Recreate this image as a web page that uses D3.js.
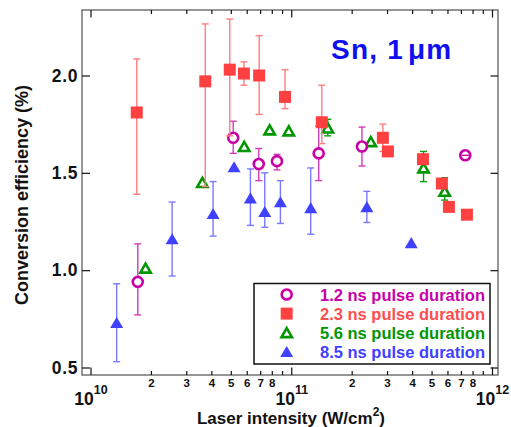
<!DOCTYPE html>
<html><head><meta charset="utf-8">
<script src="https://cdn.jsdelivr.net/npm/d3@7"></script>
<style>
body{margin:0;background:#fff}
svg{display:block}
text{font-family:"Liberation Sans",Arial,Helvetica,sans-serif;font-weight:bold}
</style>
</head><body>
<svg id="chart" width="511" height="427"></svg>
<script>
// Conversion efficiency of Sn plasma (1 µm laser) vs. laser intensity, four pulse durations.

// 1.2 ns pulse duration
const int12 = [1.72e10, 5.14e10, 6.89e10, 8.49e10, 1.37e11, 2.25e11, 7.36e11];
const ce12  = [0.94, 1.68, 1.545, 1.56, 1.60, 1.635, 1.59];
const lo12  = [0.77, 1.60, 1.46, 1.515, 1.46, 1.535, 1.587];
const hi12  = [1.135, 1.765, 1.625, 1.595, 1.74, 1.735, 1.593];

// 2.3 ns pulse duration
const int23 = [1.70e10, 3.73e10, 4.94e10, 5.81e10, 6.92e10, 9.31e10, 1.42e11, 2.86e11, 3.03e11, 4.53e11, 5.63e11, 6.10e11, 7.50e11];
const ce23  = [1.81, 1.97, 2.03, 2.01, 2.00, 1.89, 1.76, 1.68, 1.61, 1.57, 1.445, 1.325, 1.285];
const lo23  = [1.39, 1.43, 1.69, 1.95, 1.80, 1.83, 1.65, 1.61, null, null, null, null, null];
const hi23  = [2.085, 2.265, 2.29, 2.07, 2.205, 2.03, 1.95, 1.75, null, null, null, null, null];

// 5.6 ns pulse duration
const int56 = [1.88e10, 3.61e10, 5.83e10, 7.81e10, 9.72e10, 1.52e11, 2.49e11, 4.56e11, 5.81e11];
const ce56  = [1.01, 1.45, 1.635, 1.72, 1.715, 1.73, 1.66, 1.525, 1.405];
const lo56  = [null, null, null, null, null, 1.69, null, 1.455, 1.36];
const hi56  = [null, null, null, null, null, 1.775, null, 1.61, 1.475];

// 8.5 ns pulse duration
const int85 = [1.35e10, 2.55e10, 4.08e10, 5.19e10, 6.26e10, 7.38e10, 8.83e10, 1.25e11, 2.38e11, 3.96e11];
const ce85  = [0.73, 1.16, 1.29, 1.53, 1.37, 1.30, 1.35, 1.32, 1.325, 1.14];
const lo85  = [0.53, 0.97, 1.175, null, 1.23, 1.22, 1.24, 1.185, 1.245, null];
const hi85  = [0.93, 1.35, 1.455, null, 1.52, 1.50, 1.46, 1.525, 1.405, null];

const yTicks = [0.5, 1.0, 1.5, 2.0];
const xMajorTicks = [1e10, 1e11, 1e12];
const xMinorDigits = [2, 3, 4, 5, 6, 7, 8, 9];
const legendLabels = ["1.2 ns pulse duration", "2.3 ns pulse duration", "5.6 ns pulse duration", "8.5 ns pulse duration"];

const svg = d3.select("#chart");
const x = d3.scaleLog().domain([1e10, 1e12]).range([90.5, 492]);
const y = d3.scaleLinear().domain([0.5, 2.0]).range([367.5, 75.5]);

const frame = {left: 82, right: 498, top: 10, bottom: 375};

const xMinorTicks = [];
[1e10, 1e11].forEach(dec => xMinorDigits.forEach(d => xMinorTicks.push(d * dec)));

// plot frame
svg.append("rect")
  .attr("x", frame.left).attr("y", frame.top)
  .attr("width", frame.right - frame.left).attr("height", frame.bottom - frame.top)
  .attr("fill", "none").attr("stroke", "#6a6a6a").attr("stroke-width", 1.4);

function styleAxis(g) {
  g.select(".domain").remove();
  g.selectAll(".tick line").attr("stroke", "#111").attr("stroke-width", 1.2);
  g.selectAll(".tick text").attr("fill", "#111").attr("font-family", null);
}

const digitLabel = d => {
  const m = Math.round(d / Math.pow(10, Math.floor(Math.log10(d) + 1e-9)));
  return m <= 8 ? String(m) : "";
};

// bottom axis: minor ticks with digit labels
svg.append("g").attr("transform", `translate(0,${frame.bottom})`)
  .call(d3.axisBottom(x).tickValues(xMinorTicks).tickSize(-4).tickPadding(4).tickFormat(digitLabel))
  .call(styleAxis)
  .call(g => g.selectAll(".tick text").attr("font-size", 11.5));

// bottom axis: decades, labelled as powers of ten
svg.append("g").attr("transform", `translate(0,${frame.bottom})`)
  .call(d3.axisBottom(x).tickValues(xMajorTicks).tickSize(-7.5).tickPadding(20).tickFormat(""))
  .call(styleAxis)
  .call(g => g.selectAll(".tick text").each(function(d) {
    const t = d3.select(this).attr("dy", null).attr("y", 29.5).attr("font-size", 17.5).attr("text-anchor", "middle");
    t.append("tspan").text("10");
    t.append("tspan").attr("font-size", 12.5).attr("dy", -11).text(String(Math.round(Math.log10(d))));
  }));

// top axis mirrors the ticks without labels
svg.append("g").attr("transform", `translate(0,${frame.top})`)
  .call(d3.axisTop(x).tickValues(xMinorTicks).tickSize(-4).tickFormat(""))
  .call(styleAxis);
svg.append("g").attr("transform", `translate(0,${frame.top})`)
  .call(d3.axisTop(x).tickValues(xMajorTicks).tickSize(-7.5).tickFormat(""))
  .call(styleAxis);

// left axis
svg.append("g").attr("transform", `translate(${frame.left},0)`)
  .call(d3.axisLeft(y).tickValues(yTicks).tickSize(-8).tickPadding(4).tickFormat(d3.format(".1f")))
  .call(styleAxis)
  .call(g => g.selectAll(".tick text").attr("font-size", 17.5).attr("letter-spacing", 0.6));

// right axis
svg.append("g").attr("transform", `translate(${frame.right},0)`)
  .call(d3.axisRight(y).tickValues(yTicks).tickSize(-7.5).tickFormat(""))
  .call(styleAxis);

// axis titles
const xt = svg.append("text").attr("x", 291).attr("y", 423.5).attr("text-anchor", "middle")
  .attr("font-size", 17).attr("fill", "#111");
xt.append("tspan").text("Laser intensity (W/cm");
xt.append("tspan").attr("font-size", 12).attr("dy", -8).text("2");
xt.append("tspan").attr("dy", 8).text(")");

svg.append("text").attr("transform", "translate(28,195) rotate(-90)")
  .attr("text-anchor", "middle").attr("font-size", 18).attr("fill", "#111")
  .text("Conversion efficiency (%)");

// series definitions
const series = [
  {I: int12, v: ce12, lo: lo12, hi: hi12, color: "#c800a8", bar: "#d23cb8", text: "#c800a8", shape: "circle"},
  {I: int23, v: ce23, lo: lo23, hi: hi23, color: "#ff4040", bar: "#ff7d7d", text: "#ff4d4d", shape: "square"},
  {I: int56, v: ce56, lo: lo56, hi: hi56, color: "#009600", bar: "#109a10", text: "#009600", shape: "openTri"},
  {I: int85, v: ce85, lo: lo85, hi: hi85, color: "#4040ff", bar: "#7a7aff", text: "#4040ff", shape: "fillTri"}
];

function drawMarker(g, shape, color) {
  if (shape === "circle") {
    g.append("circle").attr("r", 5).attr("fill", "#fff").attr("stroke", color).attr("stroke-width", 2.6);
  } else if (shape === "square") {
    g.append("rect").attr("x", -6).attr("y", -6).attr("width", 12).attr("height", 12).attr("fill", color);
  } else if (shape === "openTri") {
    g.append("path").attr("d", "M0,-4.6L5.2,4.4L-5.2,4.4Z").attr("fill", "#fff")
      .attr("stroke", color).attr("stroke-width", 2.6).attr("stroke-linejoin", "miter");
  } else {
    g.append("path").attr("d", "M0,-5.8L6.5,5.3L-6.5,5.3Z").attr("fill", color);
  }
}

// drawing order: longest pulse at the back
const order = [3, 2, 0, 1];
order.forEach(si => {
  const s = series[si];
  const pts = s.I.map((I, i) => ({I, v: s.v[i], lo: s.lo[i], hi: s.hi[i]}));
  const g = svg.append("g");
  const eb = g.selectAll(".eb").data(pts.filter(p => p.lo != null)).join("g")
    .attr("stroke", s.bar).attr("stroke-width", 1.4);
  eb.append("line").attr("x1", p => x(p.I)).attr("x2", p => x(p.I)).attr("y1", p => y(p.lo)).attr("y2", p => y(p.hi));
  eb.append("line").attr("x1", p => x(p.I) - 3.5).attr("x2", p => x(p.I) + 3.5).attr("y1", p => y(p.lo)).attr("y2", p => y(p.lo));
  eb.append("line").attr("x1", p => x(p.I) - 3.5).attr("x2", p => x(p.I) + 3.5).attr("y1", p => y(p.hi)).attr("y2", p => y(p.hi));
  g.selectAll(".pt").data(pts).join("g")
    .attr("transform", p => `translate(${x(p.I)},${y(p.v)})`)
    .each(function() { drawMarker(d3.select(this), s.shape, s.color); });
});

// small error bars of the 1.2 ns series sit inside the hollow circle
svg.selectAll(null).data(int12.map((I, i) => ({I, lo: lo12[i], hi: hi12[i]})).filter(p => p.hi - p.lo < 0.02))
  .join("line").attr("stroke", "#c800a8").attr("stroke-width", 1.4)
  .attr("x1", p => x(p.I) - 3.5).attr("x2", p => x(p.I) + 3.5)
  .attr("y1", p => y((p.lo + p.hi) / 2)).attr("y2", p => y((p.lo + p.hi) / 2));

// title
const title = svg.append("text").attr("x", 331).attr("y", 59).attr("font-size", 28)
  .attr("letter-spacing", 1.2).attr("fill", "#0f0ff0");
title.append("tspan").text("Sn, 1");
title.append("tspan").attr("dx", 4).text("μm");

// legend
const leg = svg.append("g");
leg.append("rect").attr("x", 254).attr("y", 283.5).attr("width", 236).attr("height", 80.5)
  .attr("fill", "#fff").attr("stroke", "#111").attr("stroke-width", 1.5);
legendLabels.forEach((lab, i) => {
  const cy = 294.5 + i * 19.1;
  const mg = leg.append("g").attr("transform", `translate(286.7,${cy})`);
  drawMarker(mg, series[i].shape, series[i].color);
  leg.append("text").attr("x", 320).attr("y", cy + 6).attr("font-size", 16.5)
    .attr("fill", series[i].text).text(lab);
});
</script>
</body></html>
